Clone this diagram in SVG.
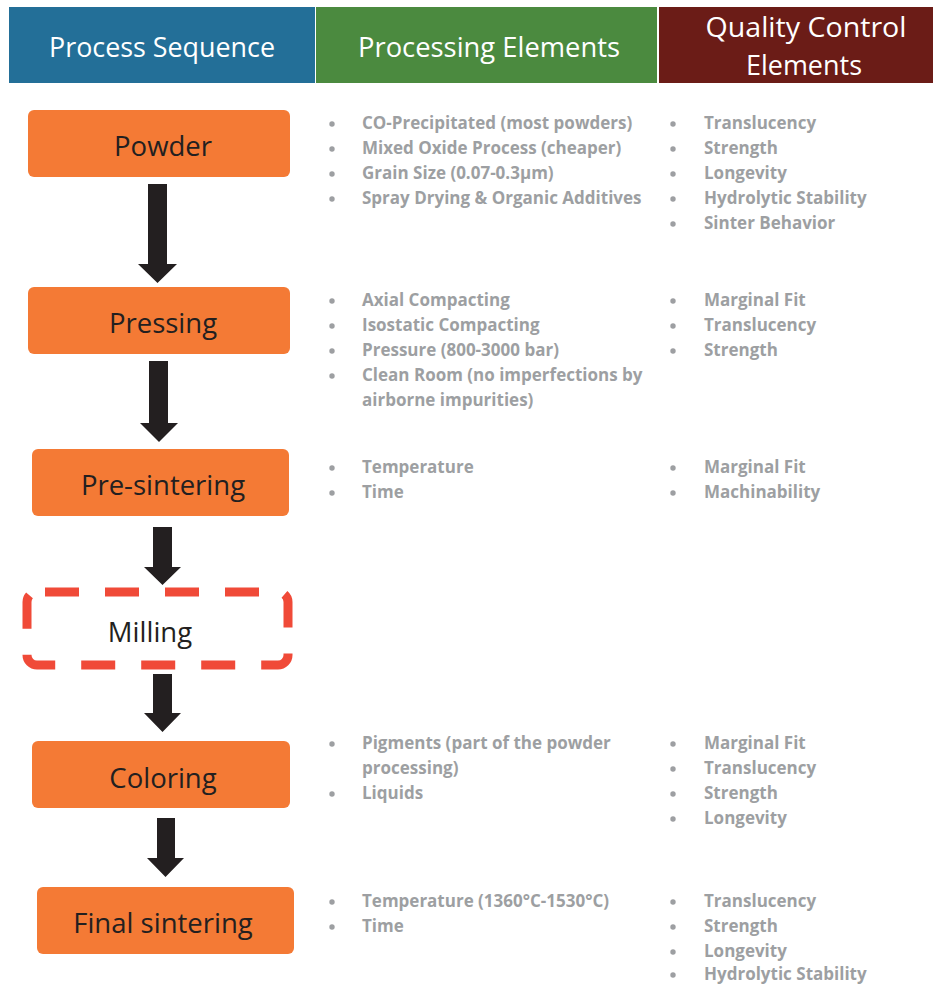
<svg xmlns="http://www.w3.org/2000/svg" width="933" height="985" viewBox="0 0 933 985">
<style>
.hdr{font-family:"Open Sans","Noto Sans",sans-serif;font-size:28px;fill:#ffffff;text-anchor:middle}
.box{fill:#f47a35}
.lbl{font-family:"Open Sans","Noto Sans",sans-serif;font-size:27.5px;fill:#231f20;text-anchor:middle}
.it{font-family:"Open Sans","Noto Sans",sans-serif;font-size:17px;font-weight:bold;fill:#9d9fa2}
.dot{fill:#9d9fa2}
.arr{fill:#231f20}
</style>
<defs>
<circle id="b" r="2.7" class="dot"/>
</defs>
<rect width="933" height="985" fill="#ffffff"/>
<g id="headers">
<rect x="9" y="7" width="306" height="76" fill="#236f98"/>
<rect x="316" y="7" width="341" height="76" fill="#4b8a3f"/>
<rect x="659" y="7" width="274" height="76" fill="#6b1c17"/>
<text class="hdr" x="162" y="57" textLength="226" lengthAdjust="spacingAndGlyphs">Process Sequence</text>
<text class="hdr" x="489" y="57" textLength="262" lengthAdjust="spacingAndGlyphs">Processing Elements</text>
<text class="hdr" x="806" y="37" textLength="201" lengthAdjust="spacingAndGlyphs">Quality Control</text>
<text class="hdr" x="804" y="75" textLength="116" lengthAdjust="spacingAndGlyphs">Elements</text>
</g>
<g id="connectors">
<polygon class="arr" points="148,184 167,184 167,264 177,264 157.5,283 138,264 148,264"/>
<polygon class="arr" points="149,361 168,361 168,423 178,423 159,442 140,423 149,423"/>
<polygon class="arr" points="153,527 172,527 172,567 181,567 162.5,585 144,567 153,567"/>
<polygon class="arr" points="153,674 172,674 172,713 181,713 162.5,732 144,713 153,713"/>
<polygon class="arr" points="157,818 175,818 175,858 184,858 165.5,877 147,858 157,858"/>
</g>
<g id="powder">
<rect class="box" x="28" y="110" width="262" height="67" rx="6"/>
<text class="lbl" x="163" y="156">Powder</text>
</g>
<g id="pressing">
<rect class="box" x="28" y="287" width="262" height="67" rx="6"/>
<text class="lbl" x="163" y="333">Pressing</text>
</g>
<g id="presintering">
<rect class="box" x="32" y="449" width="257" height="67" rx="6"/>
<text class="lbl" x="163" y="495">Pre-sintering</text>
</g>
<g id="milling">
<rect x="27" y="592" width="261" height="73" rx="10" fill="none" stroke="#f04a38" stroke-width="9" stroke-dasharray="34 26" stroke-dashoffset="-8"/>
<text class="lbl" x="150" y="642">Milling</text>
</g>
<g id="coloring">
<rect class="box" x="32" y="741" width="258" height="67" rx="6"/>
<text class="lbl" x="163" y="788">Coloring</text>
</g>
<g id="finalsintering">
<rect class="box" x="37" y="887" width="257" height="67" rx="6"/>
<text class="lbl" x="163" y="933">Final sintering</text>
</g>
<g id="powder-items">
<use href="#b" x="332" y="124"/><text class="it" x="362" y="129">CO-Precipitated (most powders)</text>
<use href="#b" x="332" y="149"/><text class="it" x="362" y="154">Mixed Oxide Process (cheaper)</text>
<use href="#b" x="332" y="174"/><text class="it" x="362" y="179">Grain Size (0.07-0.3µm)</text>
<use href="#b" x="332" y="199"/><text class="it" x="362" y="204">Spray Drying &amp; Organic Additives</text>
<use href="#b" x="673" y="124"/><text class="it" x="704" y="129">Translucency</text>
<use href="#b" x="673" y="149"/><text class="it" x="704" y="154">Strength</text>
<use href="#b" x="673" y="174"/><text class="it" x="704" y="179">Longevity</text>
<use href="#b" x="673" y="199"/><text class="it" x="704" y="204">Hydrolytic Stability</text>
<use href="#b" x="673" y="224"/><text class="it" x="704" y="229">Sinter Behavior</text>
</g>
<g id="pressing-items">
<use href="#b" x="332" y="301"/><text class="it" x="362" y="306">Axial Compacting</text>
<use href="#b" x="332" y="326"/><text class="it" x="362" y="331">Isostatic Compacting</text>
<use href="#b" x="332" y="351"/><text class="it" x="362" y="356">Pressure (800-3000 bar)</text>
<use href="#b" x="332" y="376"/><text class="it" x="362" y="381">Clean Room (no imperfections by</text>
<text class="it" x="362" y="406">airborne impurities)</text>
<use href="#b" x="673" y="301"/><text class="it" x="704" y="306">Marginal Fit</text>
<use href="#b" x="673" y="326"/><text class="it" x="704" y="331">Translucency</text>
<use href="#b" x="673" y="351"/><text class="it" x="704" y="356">Strength</text>
</g>
<g id="presintering-items">
<use href="#b" x="332" y="468"/><text class="it" x="362" y="473">Temperature</text>
<use href="#b" x="332" y="493"/><text class="it" x="362" y="498">Time</text>
<use href="#b" x="673" y="468"/><text class="it" x="704" y="473">Marginal Fit</text>
<use href="#b" x="673" y="493"/><text class="it" x="704" y="498">Machinability</text>
</g>
<g id="coloring-items">
<use href="#b" x="332" y="744"/><text class="it" x="362" y="749">Pigments (part of the powder</text>
<text class="it" x="362" y="774">processing)</text>
<use href="#b" x="332" y="794"/><text class="it" x="362" y="799">Liquids</text>
<use href="#b" x="673" y="744"/><text class="it" x="704" y="749">Marginal Fit</text>
<use href="#b" x="673" y="769"/><text class="it" x="704" y="774">Translucency</text>
<use href="#b" x="673" y="794"/><text class="it" x="704" y="799">Strength</text>
<use href="#b" x="673" y="819"/><text class="it" x="704" y="824">Longevity</text>
</g>
<g id="finalsintering-items">
<use href="#b" x="332" y="902"/><text class="it" x="362" y="907">Temperature (1360°C-1530°C)</text>
<use href="#b" x="332" y="927"/><text class="it" x="362" y="932">Time</text>
<use href="#b" x="673" y="902"/><text class="it" x="704" y="907">Translucency</text>
<use href="#b" x="673" y="927"/><text class="it" x="704" y="932">Strength</text>
<use href="#b" x="673" y="952"/><text class="it" x="704" y="957">Longevity</text>
<use href="#b" x="673" y="975"/><text class="it" x="704" y="980">Hydrolytic Stability</text>
</g>
</svg>
